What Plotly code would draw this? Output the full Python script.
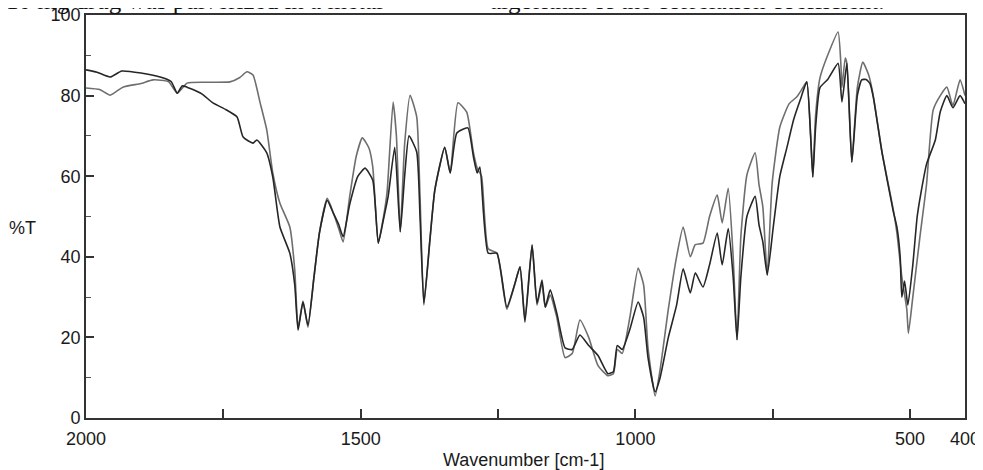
import plotly.graph_objects as go

# Trace A (darker, smaller band amplitude)
wn_a = [2000, 1980, 1956, 1935, 1900, 1865, 1845, 1834, 1825, 1816, 1790, 1769, 1745, 1725,
        1714, 1696, 1689, 1671, 1660, 1647, 1629, 1620, 1614, 1605, 1596, 1585, 1575, 1561,
        1550, 1540, 1532, 1520, 1505, 1492, 1478, 1468, 1459, 1450, 1438, 1428, 1420, 1412,
        1398, 1392, 1385, 1374, 1365, 1347, 1337, 1325, 1305, 1295, 1288, 1283, 1268, 1252,
        1234, 1220, 1210, 1201, 1188, 1179, 1170, 1164, 1155, 1143, 1128, 1115, 1101, 1085,
        1068, 1050, 1040, 1033, 1024, 1010, 995, 985, 977, 964, 955, 940, 925, 913, 900,
        891, 877, 865, 851, 842, 831, 822, 815, 808, 797, 782, 775, 768, 760, 749, 737, 724,
        712, 700, 688, 681, 677, 672, 664, 650, 631, 624, 615, 606, 596, 588, 580, 573, 567,
        551, 531, 524, 518, 515, 510, 504, 495, 487, 480, 470, 454, 445, 433, 422, 409, 400]
t_a = [86.4, 85.8, 84.6, 86.1, 85.6, 84.6, 83.5, 80.6, 82.4, 82.1, 80.5, 78.2, 76.5, 74.7,
       69.7, 68.2, 69.0, 65.8, 59.8, 47.4, 40.9, 33.0, 21.8, 28.8, 23.0, 35.0, 46.0, 54.0,
       50.9, 48.0, 45.0, 53.0, 60.0, 62.0, 59.0, 43.4, 49.0, 55.0, 67.2, 46.2, 60.0, 70.0,
       66.0, 50.0, 28.5, 44.2, 56.6, 67.2, 60.8, 70.7, 72.0, 65.0, 60.8, 62.3, 40.9, 40.9,
       27.5, 33.0, 37.5, 23.8, 42.9, 28.5, 34.2, 27.5, 31.8, 26.0, 17.4, 17.0, 20.6, 18.0,
       15.5, 11.0, 11.5, 18.0, 17.0, 22.0, 28.8, 25.0, 15.0, 6.5, 10.0, 20.0, 28.0, 37.0, 31.0,
       36.0, 32.5, 38.0, 45.9, 38.0, 47.0, 35.0, 19.4, 35.0, 50.0, 55.0, 48.0, 43.7, 35.5, 47.4,
       60.0, 67.2, 74.0, 78.9, 83.4, 70.0, 59.8, 72.0, 82.0, 84.0, 88.0, 78.4, 88.0, 63.5, 80.0,
       83.9, 84.0, 83.0, 79.7, 65.8, 51.6, 47.4, 40.0, 30.0, 34.0, 28.0, 38.0, 50.0, 56.0,
       63.0, 69.0, 76.0, 80.0, 77.0, 80.0, 78.0]

# Trace B (lighter, larger band amplitude)
wn_b = [2000, 1975, 1956, 1933, 1900, 1878, 1850, 1834, 1816, 1780, 1738, 1720, 1707, 1696,
        1683, 1671, 1660, 1647, 1629, 1620, 1614, 1605, 1596, 1585, 1575, 1561, 1550, 1540,
        1532, 1520, 1508, 1497, 1485, 1478, 1468, 1459, 1452, 1441, 1435, 1428, 1420, 1410,
        1398, 1392, 1385, 1374, 1365, 1347, 1337, 1323, 1307, 1295, 1288, 1280, 1268, 1252,
        1234, 1220, 1210, 1201, 1188, 1179, 1170, 1164, 1155, 1143, 1128, 1115, 1101, 1085,
        1068, 1050, 1040, 1033, 1024, 1010, 995, 985, 977, 964, 955, 940, 925, 913, 900, 891,
        877, 865, 851, 842, 831, 822, 815, 808, 797, 782, 775, 768, 760, 751, 737, 720, 706,
        695, 688, 681, 677, 672, 664, 650, 631, 626, 624, 618, 615, 606, 596, 586, 575, 567,
        551, 531, 524, 515, 506, 503, 495, 482, 470, 458, 445, 433, 422, 409, 400]
t_b = [81.9, 81.5, 80.1, 82.1, 83.0, 83.9, 83.5, 80.6, 83.1, 83.3, 83.4, 84.5, 85.9, 85.1,
       78.2, 71.5, 60.8, 53.3, 47.4, 36.7, 22.3, 29.0, 22.5, 35.0, 46.0, 54.5, 51.0, 47.0,
       43.7, 55.0, 65.0, 69.5, 67.0, 62.3, 43.4, 49.5, 56.0, 78.4, 70.0, 46.2, 68.0, 80.1,
       74.7, 55.0, 28.0, 44.2, 56.6, 67.2, 60.8, 78.2, 75.9, 66.0, 62.0, 60.0, 42.0, 40.9,
       27.0, 33.0, 37.5, 24.5, 43.0, 28.0, 33.5, 27.5, 30.5, 25.0, 15.0, 16.0, 24.3, 20.0,
       13.0, 10.5, 11.0, 17.0, 16.0, 25.0, 37.2, 33.0, 17.4, 5.5, 12.0, 27.0, 40.0, 47.4, 40.0, 43.0,
       43.4, 50.0, 55.3, 48.4, 57.0, 40.0, 19.4, 45.0, 60.3, 65.8, 58.0, 52.4, 35.5, 58.3, 72.2, 78.0, 79.7,
       82.0, 83.4, 70.0, 59.8, 75.0, 84.4, 90.0, 95.8, 88.0, 82.0, 89.3, 88.0, 63.5, 82.0, 88.3, 85.0, 80.0,
       66.0, 52.0, 46.0, 35.0, 27.0, 21.0, 30.0, 45.0, 58.0, 76.4, 80.0, 82.1, 77.5, 83.9, 80.0]

x_tickvals = [2000, 1750, 1500, 1250, 1000, 750, 500, 400]
x_ticktext = ["2000", "", "1500", "", "1000", "", "500", "400"]
y_tickvals = [0, 20, 40, 60, 80, 100]
y_ticktext = ["0", "20", "40", "60", "80", "100"]

fig = go.Figure()
fig.add_trace(go.Scatter(x=wn_b, y=t_b, mode="lines",
                         line=dict(color="#6e6e6e", width=1.6, shape="spline", smoothing=0.5),
                         showlegend=False))
fig.add_trace(go.Scatter(x=wn_a, y=t_a, mode="lines",
                         line=dict(color="#262626", width=1.6, shape="spline", smoothing=0.5),
                         showlegend=False))

axis_font = dict(family="Liberation Sans, Arial, sans-serif", size=18, color="#1a1a1a")
serif_font = dict(family="Liberation Serif, Times New Roman, serif", size=25, color="#111")
# the page body adds an 8px offset, so margins are shifted to compensate
fig.update_layout(
    width=983, height=470,
    margin=dict(l=78, r=26, t=7, b=60, autoexpand=False),
    paper_bgcolor="white", plot_bgcolor="white",
    xaxis=dict(range=[2000, 400], tickvals=x_tickvals, ticktext=x_ticktext,
               ticks="inside", ticklen=9, tickwidth=1.5, tickcolor="#333",
               ticklabelstandoff=3, ticklabeloverflow="allow",
               showline=True, linecolor="#333", linewidth=1.8, mirror=True,
               showgrid=False, zeroline=False, tickfont=axis_font),
    yaxis=dict(range=[0, 100], tickvals=y_tickvals, ticktext=y_ticktext,
               ticks="inside", ticklen=8, tickwidth=1.5, tickcolor="#333",
               ticklabeloverflow="allow",
               minor=dict(dtick=10, tick0=10, ticks="inside", ticklen=5, tickcolor="#555", tickwidth=1.2),
               showline=True, linecolor="#333", linewidth=1.8, mirror=True,
               showgrid=False, zeroline=False, tickfont=axis_font),
    annotations=[
        dict(text="Wavenumber [cm-1]", x=0.498, y=-0.104, xref="paper", yref="paper",
             showarrow=False, font=axis_font, xanchor="center", yanchor="middle"),
        dict(text="%T", x=-0.0717, y=0.471, xref="paper", yref="paper",
             showarrow=False, font=axis_font, xanchor="center", yanchor="middle"),
        dict(text="10 mg drug was pulverized in a metal", x=0, y=1.0, xref="paper", yref="paper",
             xshift=-82, yshift=-1, showarrow=False, xanchor="left", yanchor="bottom",
             font=serif_font),
        dict(text="algorithm of the correlation coefficient.", x=0, y=1.0, xref="paper", yref="paper",
             xshift=402, yshift=-1, showarrow=False, xanchor="left", yanchor="bottom",
             font=serif_font),
    ],
)

fig.write_html("out.html")
